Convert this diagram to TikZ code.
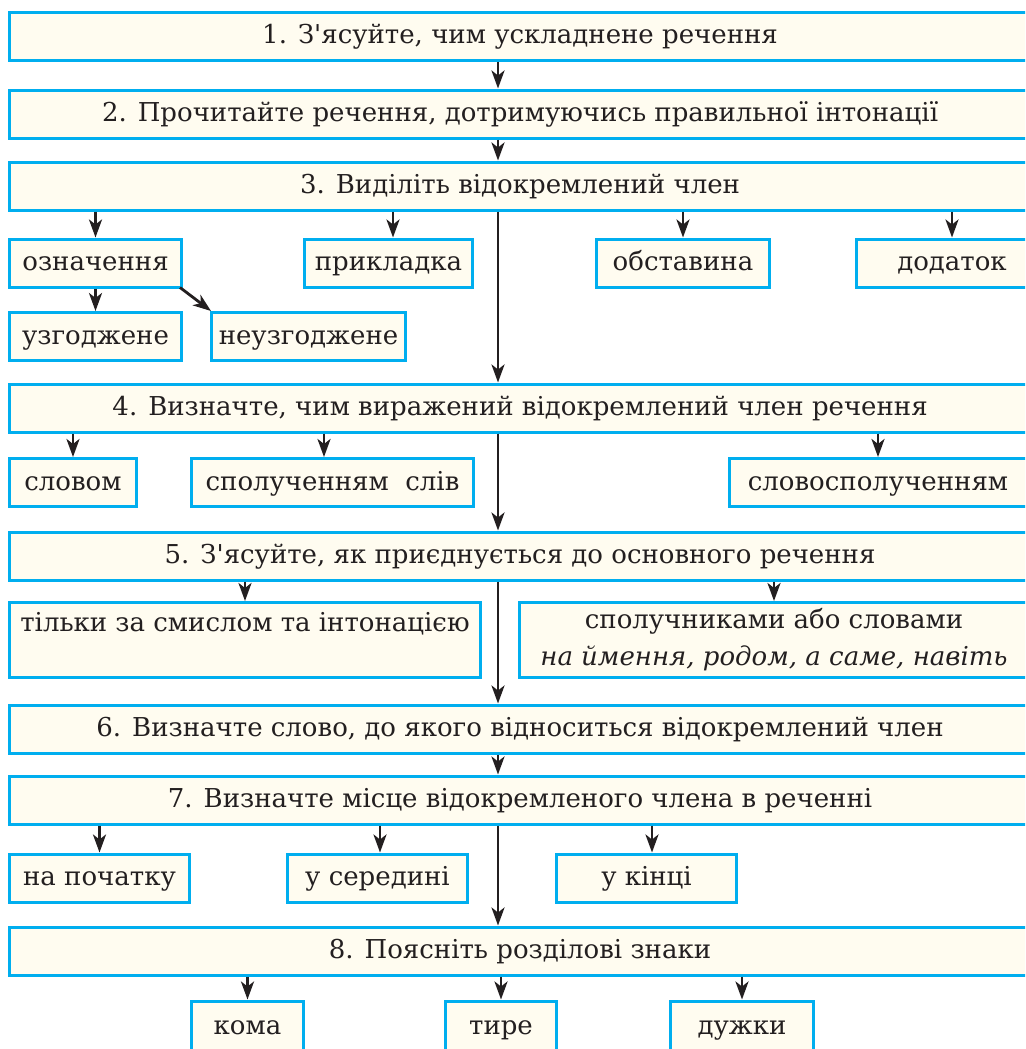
\documentclass[tikz,border=0pt]{standalone}
\usepackage{fontspec}
\setmainfont{DejaVu Serif}[Ligatures=TeXOff]
\usetikzlibrary{arrows.meta}
\definecolor{boxline}{HTML}{00AEEF}
\definecolor{boxfill}{HTML}{FFFCF0}
\definecolor{ink}{HTML}{231F20}

\begin{document}
\begin{tikzpicture}[x=1pt,y=-1pt,
    box/.style={draw=boxline,fill=boxfill,line width=3pt,inner sep=0pt,text=ink,
      font=\fontsize{26}{37}\selectfont,align=center,minimum height=48pt},
    one/.style={box,text height=15pt,text depth=0pt},
    wide/.style={one,minimum width=1022pt},
    arr/.style={draw=ink,line width=2.8pt,-{Stealth[length=18pt,width=13pt,inset=5pt]}}]
    \useasboundingbox (0,0) rectangle (1025,1049);
    \clip (0,0) rectangle (1025,1049);
    \coordinate (spine) at (498,0);

    % main steps
    \node[wide] (b1) at (520,36.5) {1. З'ясуйте, чим ускладнене речення};
    \node[wide] (b2) at (520,114) {2. Прочитайте речення, дотримуючись правильної інтонації};
    \node[wide] (b3) at (520,186) {3. Виділіть відокремлений член};
    \node[wide] (b4) at (520,408) {4. Визначте, чим виражений відокремлений член речення};
    \node[wide] (b5) at (520,556) {5. З'ясуйте, як приєднується до основного речення};
    \node[wide] (b6) at (520,729) {6. Визначте слово, до якого відноситься відокремлений член};
    \node[wide] (b7) at (520,800) {7. Визначте місце відокремленого члена в реченні};
    \node[wide] (b8) at (520,951) {8. Поясніть розділові знаки};

    % step 3
    \node[one,minimum width=172pt] (oznach) at (95.5,263) {означення};
    \node[one,minimum width=168pt] (prykl) at (388.5,263) {прикладка};
    \node[one,minimum width=173pt] (obst) at (683,263) {обставина};
    \node[one,minimum width=191pt] (dodat) at (952,263) {додаток};
    \node[one,minimum width=172pt] (uzg) at (95.5,336.5) {узгоджене};
    \node[one,minimum width=194pt] (neuzg) at (308.5,336.5) {неузгоджене};

    % step 4
    \node[one,minimum width=127pt] (slovom) at (73,482.5) {словом};
    \node[one,minimum width=282pt] (spol) at (332.5,482.5) {сполученням\ \ слів};
    \node[one,minimum width=298pt] (slsp) at (878,482.5) {словосполученням};

    % step 5
    \node[box,minimum width=471pt,minimum height=75pt] (smysl) at (245,640)
      {тільки за смислом та інтонацією\\\mbox{}};
    \node[box,minimum width=509pt,minimum height=75pt] (spoluch) at (774,640)
      {сполучниками або словами\\\textit{на ймення, родом, а саме, навіть}};

    % step 7
    \node[one,minimum width=180pt] (poch) at (99.5,878) {на початку};
    \node[one,minimum width=180pt] (sered) at (377.5,878) {у середині};
    \node[one,minimum width=180pt] (kinets) at (646.5,878) {у кінці};

    % step 8
    \node[one,minimum width=112pt,minimum height=52pt] (koma) at (247.5,1027) {кома};
    \node[one,minimum width=111pt,minimum height=52pt] (tyre) at (501,1027) {тире};
    \node[one,minimum width=143pt,minimum height=52pt] (duzhky) at (742,1027) {дужки};

    % spine
    \draw[arr] (b1.south -| spine) -- (b2.north -| spine);
    \draw[arr] (b2.south -| spine) -- (b3.north -| spine);
    \draw[arr] (b3.south -| spine) -- (b4.north -| spine);
    \draw[arr] (b4.south -| spine) -- (b5.north -| spine);
    \draw[arr] (b5.south -| spine) -- (b6.north -| spine);
    \draw[arr] (b6.south -| spine) -- (b7.north -| spine);
    \draw[arr] (b7.south -| spine) -- (b8.north -| spine);

    % branches
    \foreach \n/\p in {oznach/b3,obst/b3,dodat/b3,slovom/b4,slsp/b4,smysl/b5,spoluch/b5,
                       poch/b7,koma/b8,tyre/b8,duzhky/b8}
      \draw[arr] (\n.north |- \p.south) -- (\n.north);
    \draw[arr] (oznach.south) -- (uzg.north);
    \draw[arr] ([xshift=-3pt,yshift=1pt]oznach.south east) -- ([xshift=1pt]neuzg.north west);
    \draw[arr] ([xshift=4.5pt]prykl.north |- b3.south) -- ([xshift=4.5pt]prykl.north);
    \draw[arr] ([xshift=-8.5pt]spol.north |- b4.south) -- ([xshift=-8.5pt]spol.north);
    \draw[arr] ([xshift=2.5pt]sered.north |- b7.south) -- ([xshift=2.5pt]sered.north);
    \draw[arr] ([xshift=5.5pt]kinets.north |- b7.south) -- ([xshift=5.5pt]kinets.north);
\end{tikzpicture}
\end{document}
